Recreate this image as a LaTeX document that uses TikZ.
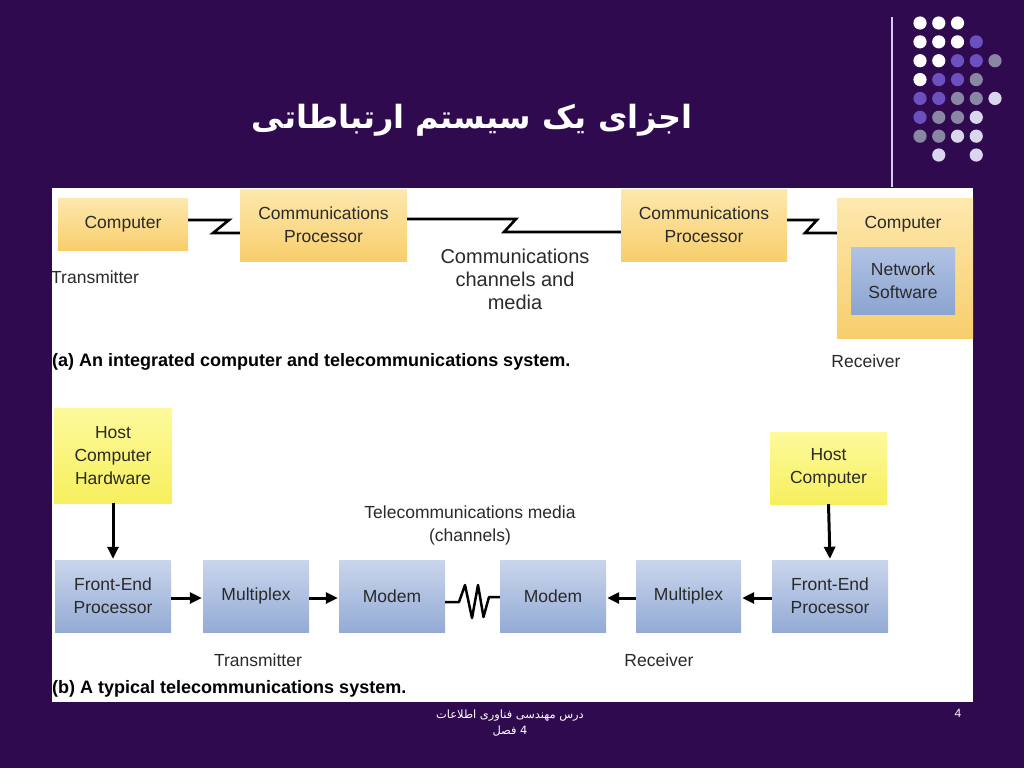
\documentclass[tikz,border=0pt]{standalone}
\usepackage{fontspec}
\setmainfont{Liberation Sans}
\newfontfamily\fa[Script=Arabic]{DejaVu Sans}
\TeXXeTstate=1
\usetikzlibrary{arrows.meta,calc}
\definecolor{bg}{HTML}{2F0A4F}
\definecolor{txt}{HTML}{2A2A2A}
\definecolor{yt}{HTML}{FDE8AE}
\definecolor{yb}{HTML}{F8CE6C}
\definecolor{bt}{HTML}{C9D5EC}
\definecolor{bb}{HTML}{94ABD5}
\definecolor{nt}{HTML}{B2C3E4}
\definecolor{nb}{HTML}{8CA4D0}
\definecolor{ht}{HTML}{FDFA9C}
\definecolor{hb}{HTML}{F7EF5E}
\definecolor{dW}{HTML}{FFFFFF}
\definecolor{dP}{HTML}{6C50C0}
\definecolor{dG}{HTML}{8A87A4}
\definecolor{dL}{HTML}{DAD6EE}
\definecolor{vline}{HTML}{D9C9F2}
\tikzset{
  boxtext/.style={inner sep=0pt, text=txt, align=center, font=\fontsize{17.5}{23}\selectfont},
  ybox/.style={boxtext, top color=yt, bottom color=yb},
  bbox/.style={boxtext, top color=bt, bottom color=bb},
  nbox/.style={boxtext, top color=nt, bottom color=nb},
  hbox/.style={boxtext, top color=ht, bottom color=hb},
  lbl/.style={inner sep=0pt, text=txt, align=center, font=\fontsize{17.5}{23}\selectfont},
  captext/.style={inner sep=0pt, text=black, anchor=west, font=\fontsize{18}{21}\selectfont\bfseries},
  wire/.style={line width=2.6pt, black, line join=miter},
  arr/.style={line width=3pt, black, -{Triangle[length=12pt,width=11pt]}, shorten >=1pt},
}
\begin{document}
\begin{tikzpicture}[x=1pt,y=-1pt]
\fill[bg] (0,0) rectangle (1024,768);
\useasboundingbox (0,0) rectangle (1024,768);
% decoration
\draw[vline, line width=1.5pt] (892,17) -- (892,187);
\foreach \c/\r/\col in {1/1/dW,2/1/dW,3/1/dW,
  1/2/dW,2/2/dW,3/2/dW,4/2/dP,
  1/3/dW,2/3/dW,3/3/dP,4/3/dP,5/3/dG,
  1/4/dW,2/4/dP,3/4/dP,4/4/dG,
  1/5/dP,2/5/dP,3/5/dG,4/5/dG,5/5/dL,
  1/6/dP,2/6/dG,3/6/dG,4/6/dL,
  1/7/dG,2/7/dG,3/7/dL,4/7/dL,
  2/8/dL,4/8/dL}
  \fill[\col] ({920+18.75*(\c-1)},{23+18.86*(\r-1)}) circle (6.6);
% title
\node[text=white, inner sep=0pt, font=\fa\bfseries\fontsize{32}{36}\selectfont] (title) at (472,120) {\beginR اجزای یک سیستم ارتباطاتی\endR};
% panel
\fill[white] (52,188) rectangle (973,702);
% (a)
\node[ybox, minimum width=130, minimum height=52] (comp1) at (123,224) {Computer};
\node[ybox, minimum width=167, minimum height=72] (cp1) at (323.5,225) {Communications\\Processor};
\node[ybox, minimum width=166, minimum height=72] (cp2) at (704,225) {Communications\\Processor};
\node[ybox, minimum width=136, minimum height=140] (comp2) at (905,268) {};
\node[lbl] (comp2t) at (903,224) {Computer};
\node[nbox, minimum width=104, minimum height=67] (net) at (903,280.5) {Network\\Software};
\draw[wire] (comp1.east |- 0,220) -- (229,220) -- (213,233) -- (cp1.west |- 0,233);
\draw[wire] (cp1.east |- 0,219) -- (516,219) -- (504,232) -- (cp2.west |- 0,232);
\draw[wire] (cp2.east |- 0,220) -- (817,220) -- (805,233) -- (comp2.west |- 0,233);
\node[lbl, anchor=west] (tx1) at (51,277) {Transmitter};
\node[lbl, font=\fontsize{20}{23}\selectfont] (chan) at (515,279) {Communications\\channels and\\media};
\node[captext] (capa) at (52,362) {(a) An integrated computer and telecommunications system.};
\node[lbl] (rx1) at (866,361) {Receiver};
% (b)
\node[hbox, minimum width=118, minimum height=95] (hch) at (113,455.5) {Host\\Computer\\Hardware};
\node[bbox, minimum width=116, minimum height=72] (fep1) at (113,596) {Front-End\\Processor};
\node[bbox, minimum width=106, minimum height=72] (mux1) at (256,596) {Multiplex};
\node[bbox, minimum width=106, minimum height=72] (mod1) at (392,596) {Modem};
\node[bbox, minimum width=106, minimum height=72] (mod2) at (553,596) {Modem};
\node[bbox, minimum width=105, minimum height=72] (mux2) at (688.5,596) {Multiplex};
\node[bbox, minimum width=116, minimum height=72] (fep2) at (830,596) {Front-End\\Processor};
\node[hbox, minimum width=117, minimum height=72] (hc2) at (828.5,468) {Host\\Computer};
\draw[arr] (hch.south) -- (fep1.north);
\draw[arr] (hc2.south) -- (fep2.north);
\draw[arr] (fep1.east |- 0,598) -- (mux1.west |- 0,598);
\draw[arr] (mux1.east |- 0,598) -- (mod1.west |- 0,598);
\draw[arr] (fep2.west |- 0,598) -- (mux2.east |- 0,598);
\draw[arr] (mux2.west |- 0,598) -- (mod2.east |- 0,598);
\draw[wire, line width=2.5pt, line join=round] (mod1.east |- 0,602) -- (459,602) -- (465,585) -- (472,618) -- (478,585) -- (483.5,617) -- (489,597) -- (mod2.west |- 0,597);
\node[lbl] (media) at (470,525) {Telecommunications media\\(channels)};
\node[lbl] (tx2) at (258,660) {Transmitter};
\node[lbl] (rx2) at (659,660) {Receiver};
\node[captext] (capb) at (52,689) {(b) A typical telecommunications system.};
% footer
\node[text=white, inner sep=0pt, align=center, font=\fa\fontsize{11.4}{16}\selectfont] (foot) at (510,723) {\beginR درس مهندسی فناوری اطلاعات\endR\\\beginR 4 فصل\endR};
\node[text=white, inner sep=0pt, font=\fontsize{12}{14}\selectfont] (page) at (958,713) {4};
\end{tikzpicture}
\end{document}
